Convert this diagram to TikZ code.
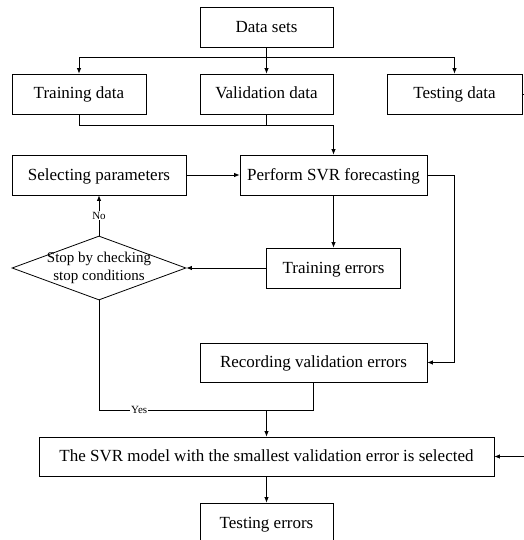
\documentclass[tikz,border=0pt]{standalone}
\usepackage{fontspec}
\setmainfont{Liberation Serif}
\usetikzlibrary{arrows.meta,shapes.geometric}

\begin{document}
\begin{tikzpicture}[x=1pt,y=-1pt,line width=0.8pt,
        box/.style={draw,rectangle,inner sep=0,minimum height=40pt,text height=12.5pt,text depth=2.5pt,font=\fontsize{17}{20}\selectfont},
        decision/.style={draw,diamond,inner sep=0,minimum width=174pt,minimum height=64pt},
        arr/.style={-{Latex[length=5.5pt,width=4.5pt]}},
        tag/.style={fill=white,inner sep=1pt,font=\fontsize{11}{13}\selectfont}]
        \useasboundingbox (0,0) rectangle (523,540);

        % Boxes
        \node[box,minimum width=133pt] (sets) at (266.5,27.5) {Data sets};
        \node[box,minimum width=134pt] (train) at (79,94) {Training data};
        \node[box,minimum width=133pt] (valid) at (266.5,94) {Validation data};
        \node[box,minimum width=135pt] (test) at (454.5,94) {Testing data};

        \node[box,minimum width=174pt] (select) at (99,175) {Selecting parameters};
        \node[box,minimum width=187pt] (perform) at (333.5,175) {Perform SVR forecasting};
        \node[box,minimum width=134pt] (terr) at (333.5,268) {Training errors};
        \node[decision] (stop) at (99,268) {};
        \node[align=center,font=\fontsize{15}{18}\selectfont] (stoptext) at (stop) {Stop by checking\\stop conditions};
        \node[box,minimum width=227pt,minimum height=39pt] (record) at (313.5,362.5) {Recording validation errors};
        \node[box,minimum width=455pt,minimum height=39pt] (final) at (266.5,456.5) {The SVR model with the smallest validation error is selected};
        \node[box,minimum width=133pt] (terrs) at (266.5,523) {Testing errors};

        % Junctions
        \coordinate (split) at (266.5,57);
        \coordinate (merge) at (333.5,125);
        \coordinate (side) at (454,175);
        \coordinate (join) at (266.5,410);
        \coordinate (outer) at (535,94);

        % Connectors
        \draw (sets) -- (split);
        \foreach \v in {train, valid, test} {
            \draw[arr] (split) -| (\v);
        }
        \draw[arr] (train) |- (merge) -- (perform);
        \draw (valid) -- (valid |- merge);

        \foreach \u/\v in {select/perform, perform/terr, terr/stop, join/final, final/terrs} {
            \draw[arr] (\u) -- (\v);
        }
        \draw[arr] (perform) -- (side) |- (record);
        \draw[arr] (stop) -- node[tag] {No} (select);
        \draw (stop.south) |- node[tag,pos=0.62] {Yes} (join);
        \draw (record) |- (join);
        \draw[arr] (test) -- (outer) |- (final);
    \end{tikzpicture}
\end{document}
